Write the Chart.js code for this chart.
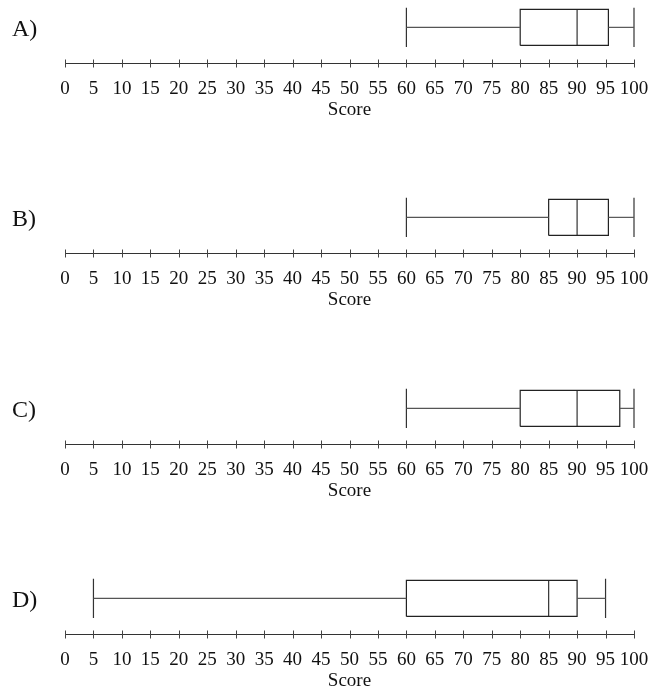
<!DOCTYPE html>
<html>
<head>
<meta charset="utf-8">
<script src="https://cdn.jsdelivr.net/npm/chart.js@4/dist/chart.umd.min.js"></script>
<style>
  html, body { margin: 0; padding: 0; background: #fff; }
  #wrap { position: relative; width: 654px; height: 688px; overflow: hidden; }
  .panel { position: absolute; left: 0; }
</style>
</head>
<body>
<div id="wrap"></div>
<script>
// Datos de los cuatro diagramas de caja
const panels = ['A)', 'B)', 'C)', 'D)']
const mins = [60, 60, 60, 5]
const q1s = [80, 85, 80, 60]
const medians = [90, 90, 90, 85]
const q3s = [95.5, 95.5, 97.5, 90]
const maxs = [100, 100, 100, 95]
const scoreTicks = [0, 5, 10, 15, 20, 25, 30, 35, 40, 45, 50, 55, 60, 65, 70, 75, 80, 85, 90, 95, 100]
const axisTitle = 'Score'

const panelTops = [0, 190, 381, 571]
const BOX_H = 0.875   // media altura de la caja (unidades del eje y)
const CAP_H = 0.95    // media altura de los extremos

// marcas del eje que cruzan la línea y etiqueta del panel
const boxDecor = {
  id: 'boxDecor',
  afterDraw(chart, args, opts) {
    const { ctx, chartArea } = chart
    const x = chart.scales.x
    const y = chart.scales.y
    ctx.save()
    ctx.strokeStyle = '#444'
    ctx.lineWidth = 1
    x.ticks.forEach(t => {
      const px = Math.round(x.getPixelForValue(t.value)) + 0.5
      ctx.beginPath()
      ctx.moveTo(px, chartArea.bottom - 4)
      ctx.lineTo(px, chartArea.bottom + 4)
      ctx.stroke()
    })
    ctx.fillStyle = '#111'
    ctx.font = '24px "Liberation Serif"'
    ctx.textBaseline = 'alphabetic'
    ctx.fillText(opts.label, 12, y.getPixelForValue(0) + 9)
    ctx.restore()
  }
}

function seg(points, color) {
  return {
    data: points,
    showLine: true,
    borderColor: color,
    borderWidth: 1.2,
    pointRadius: 0,
    fill: false,
    clip: false
  }
}

panels.forEach((label, i) => {
  const div = document.createElement('div')
  div.className = 'panel'
  div.style.top = panelTops[i] + 'px'
  const canvas = document.createElement('canvas')
  canvas.width = 654
  canvas.height = 120
  div.appendChild(canvas)
  document.getElementById('wrap').appendChild(div)

  const lo = mins[i], q1 = q1s[i], med = medians[i], q3 = q3s[i], hi = maxs[i]

  new Chart(canvas, {
    type: 'scatter',
    data: {
      datasets: [
        seg([{ x: lo, y: 0 }, { x: q1, y: 0 }], '#555'),
        seg([{ x: q3, y: 0 }, { x: hi, y: 0 }], '#555'),
        seg([{ x: lo, y: -CAP_H }, { x: lo, y: CAP_H }], '#333'),
        seg([{ x: hi, y: -CAP_H }, { x: hi, y: CAP_H }], '#333'),
        seg([{ x: q1, y: -BOX_H }, { x: q3, y: -BOX_H }, { x: q3, y: BOX_H }, { x: q1, y: BOX_H }, { x: q1, y: -BOX_H }], '#222'),
        seg([{ x: med, y: -BOX_H }, { x: med, y: BOX_H }], '#333')
      ]
    },
    options: {
      responsive: false,
      animation: false,
      events: [],
      layout: { padding: { left: 65, right: 20, top: 0, bottom: 0 } },
      plugins: {
        legend: { display: false },
        tooltip: { enabled: false },
        boxDecor: { label: label }
      },
      scales: {
        x: {
          type: 'linear',
          position: 'bottom',
          min: 0,
          max: 100,
          afterBuildTicks: (scale) => {
            scale.ticks = scoreTicks.map(v => ({ value: v }))
          },
          ticks: {
            autoSkip: false,
            maxRotation: 0,
            minRotation: 0,
            padding: 2,
            color: '#111',
            font: { family: '"Liberation Serif"', size: 19, lineHeight: 1 }
          },
          grid: {
            drawOnChartArea: false,
            drawTicks: true,
            tickLength: 14.5,
            color: 'rgba(0,0,0,0)'
          },
          border: { display: true, color: '#333', width: 1 },
          title: {
            display: true,
            text: axisTitle,
            color: '#111',
            padding: 0,
            font: { family: '"Liberation Serif"', size: 19, lineHeight: 1 }
          }
        },
        y: {
          display: false,
          min: -1.75,
          max: 1.325
        }
      }
    },
    plugins: [boxDecor]
  })
})
</script>
</body>
</html>
